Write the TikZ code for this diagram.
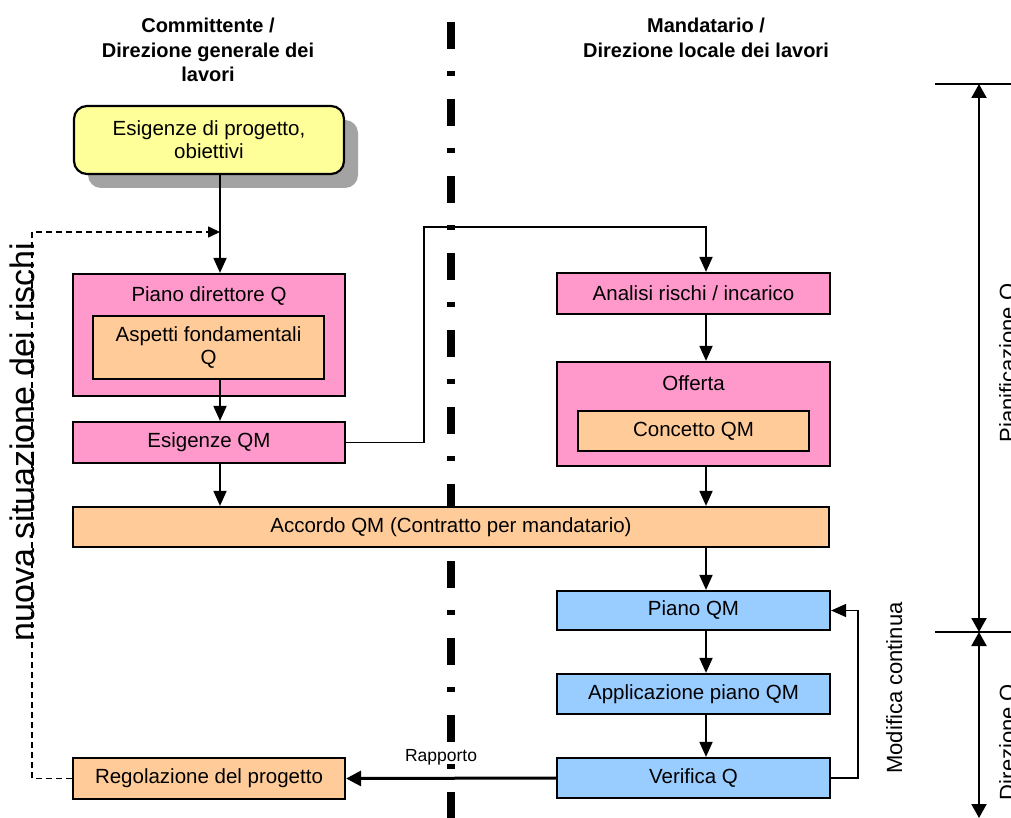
\documentclass[tikz,border=0pt]{standalone}
\usepackage{fontspec}
\setmainfont{Liberation Sans}
\usepackage[dvipsnames]{xcolor}
\usetikzlibrary{calc,arrows.meta,shadows}
\definecolor{qyellow}{HTML}{FFFF99}
\definecolor{qpink}{HTML}{FF99CC}
\definecolor{qorange}{HTML}{FFCC99}
\definecolor{qblue}{HTML}{99CCFF}
\definecolor{qshadow}{HTML}{A3A3A3}

\begin{document}
\begin{tikzpicture}[x=1pt, y=-1pt,
    box/.style={draw=black, line width=2.2pt, inner sep=0pt,
      align=center, font=\fontsize{20.5}{23}\selectfont},
    pinkbox/.style={box, fill=qpink},
    orangebox/.style={box, fill=qorange},
    bluebox/.style={box, fill=qblue},
    head/.style={align=center, inner sep=0pt,
      font=\bfseries\fontsize{20}{24.5}\selectfont},
    sidetext/.style={rotate=90, anchor=base, inner sep=0pt},
    flow/.style={line width=1.8pt, -{Triangle[width=13pt,length=15pt]}},
    span/.style={line width=2pt,
      {Triangle[width=15pt,length=14pt]}-{Triangle[width=15pt,length=14pt]}}
  ]
    \clip (0, 0) rectangle (1011, 818);
    \path[fill=white] (0, 0) rectangle (1011, 818);

    \coordinate (lx) at (220, 0);
    \coordinate (rx) at (706, 0);
    \coordinate (join) at (220, 232);
    \coordinate (turn) at (424, 227);
    \coordinate (fbk) at (32, 232);
    \coordinate (modx) at (858, 0);

    \path[draw=black, line width=8pt,
      dash pattern=on 27pt off 22pt on 5pt off 23pt]
      (451, 22) -- (451, 818);

    \node[head] (cmt) at (208, 50)
      {Committente /\\Direzione generale dei\\lavori};
    \node[head] (mnd) at (706, 38)
      {Mandatario /\\Direzione locale dei lavori};

    \node[box, fill=qyellow, rounded corners=13pt,
      minimum width=270pt, minimum height=68pt,
      drop shadow={shadow xshift=14pt, shadow yshift=-14pt,
        fill=qshadow, opacity=1}] (yel) at (209, 140)
      {Esigenze di progetto,\\obiettivi};

    \node[pinkbox, minimum width=272pt, minimum height=122pt]
      (pdq) at (209, 335) {};
    \node[box, draw=none] (pdqt) at (209, 296) {Piano direttore Q};
    \node[orangebox, minimum width=231pt, minimum height=63pt]
      (afq) at (208.5, 347.5) {Aspetti fondamentali\\Q};
    \node[pinkbox, minimum width=272pt, minimum height=41pt]
      (esq) at (209, 442.5) {Esigenze QM};

    \node[pinkbox, minimum width=273pt, minimum height=41pt]
      (ana) at (693.5, 293.5) {Analisi rischi / incarico};
    \node[pinkbox, minimum width=273pt, minimum height=104pt]
      (off) at (693.5, 414) {};
    \node[box, draw=none] (offt) at (693.5, 383) {Offerta};
    \node[orangebox, minimum width=231pt, minimum height=40pt]
      (cqm) at (693.5, 431) {Concetto QM};

    \node[orangebox, minimum width=756pt, minimum height=40pt]
      (acc) at (451, 527) {Accordo QM (Contratto per mandatario)};

    \node[bluebox, minimum width=273pt, minimum height=39pt]
      (pqm) at (693.5, 610.5) {Piano QM};
    \node[bluebox, minimum width=273pt, minimum height=40pt]
      (app) at (693.5, 694) {Applicazione piano QM};
    \node[bluebox, minimum width=273pt, minimum height=40pt]
      (ver) at (693.5, 778) {Verifica Q};
    \node[orangebox, minimum width=272pt, minimum height=41pt]
      (reg) at (209, 778.5) {Regolazione del progetto};

    \path[draw, flow] (yel.south -| lx) -- (pdq.north -| lx);
    \path[draw, flow] (afq.south -| lx) -- (esq.north -| lx);
    \path[draw, flow] (esq.south -| lx) -- (acc.north -| lx);
    \path[draw, flow] (esq.east) -| (turn) -| (ana.north -| rx);
    \foreach \a/\b in {ana/off, off/acc, acc/pqm, pqm/app, app/ver} {
      \path[draw, flow] (\a.south -| rx) -- (\b.north -| rx);
    }
    \path[draw, flow, line width=1.5pt]
      (ver.east) -- (ver.east -| modx) |- (pqm.east);
    \path[draw, line width=3pt, -{Triangle[width=15pt,length=15pt]}]
      (ver.west) -- (reg.east);
    \path[draw, line width=1.5pt, dash pattern=on 6pt off 4pt,
      -{Triangle[width=11pt,length=12pt]}]
      (reg.west) -| (fbk) -- (join);

    \node[font=\fontsize{17.5}{20}\selectfont, inner sep=0pt]
      (rap) at (441, 757) {Rapporto};
    \node[sidetext, font=\fontsize{34}{36}\selectfont]
      (nsr) at (34, 442) {nuova situazione dei rischi};
    \node[sidetext, font=\fontsize{22}{24}\selectfont]
      (mod) at (902, 688) {Modifica continua};

    \path[draw=black, line width=2pt] (935, 84) -- (1011, 84);
    \path[draw=black, line width=2pt] (935, 632) -- (1011, 632);
    \coordinate (ptop) at (979, 84);
    \coordinate (pmid) at (979, 632);
    \coordinate (pbot) at (979, 818);
    \path[draw, span] (ptop) -- (pmid);
    \path[draw, span] (pmid) -- (pbot);
    \node[sidetext, font=\fontsize{22}{24}\selectfont]
      (pq) at (1015, 363) {Pianificazione Q};
    \node[sidetext, font=\fontsize{22}{24}\selectfont]
      (dq) at (1015, 742) {Direzione Q};
  \end{tikzpicture}
\end{document}
